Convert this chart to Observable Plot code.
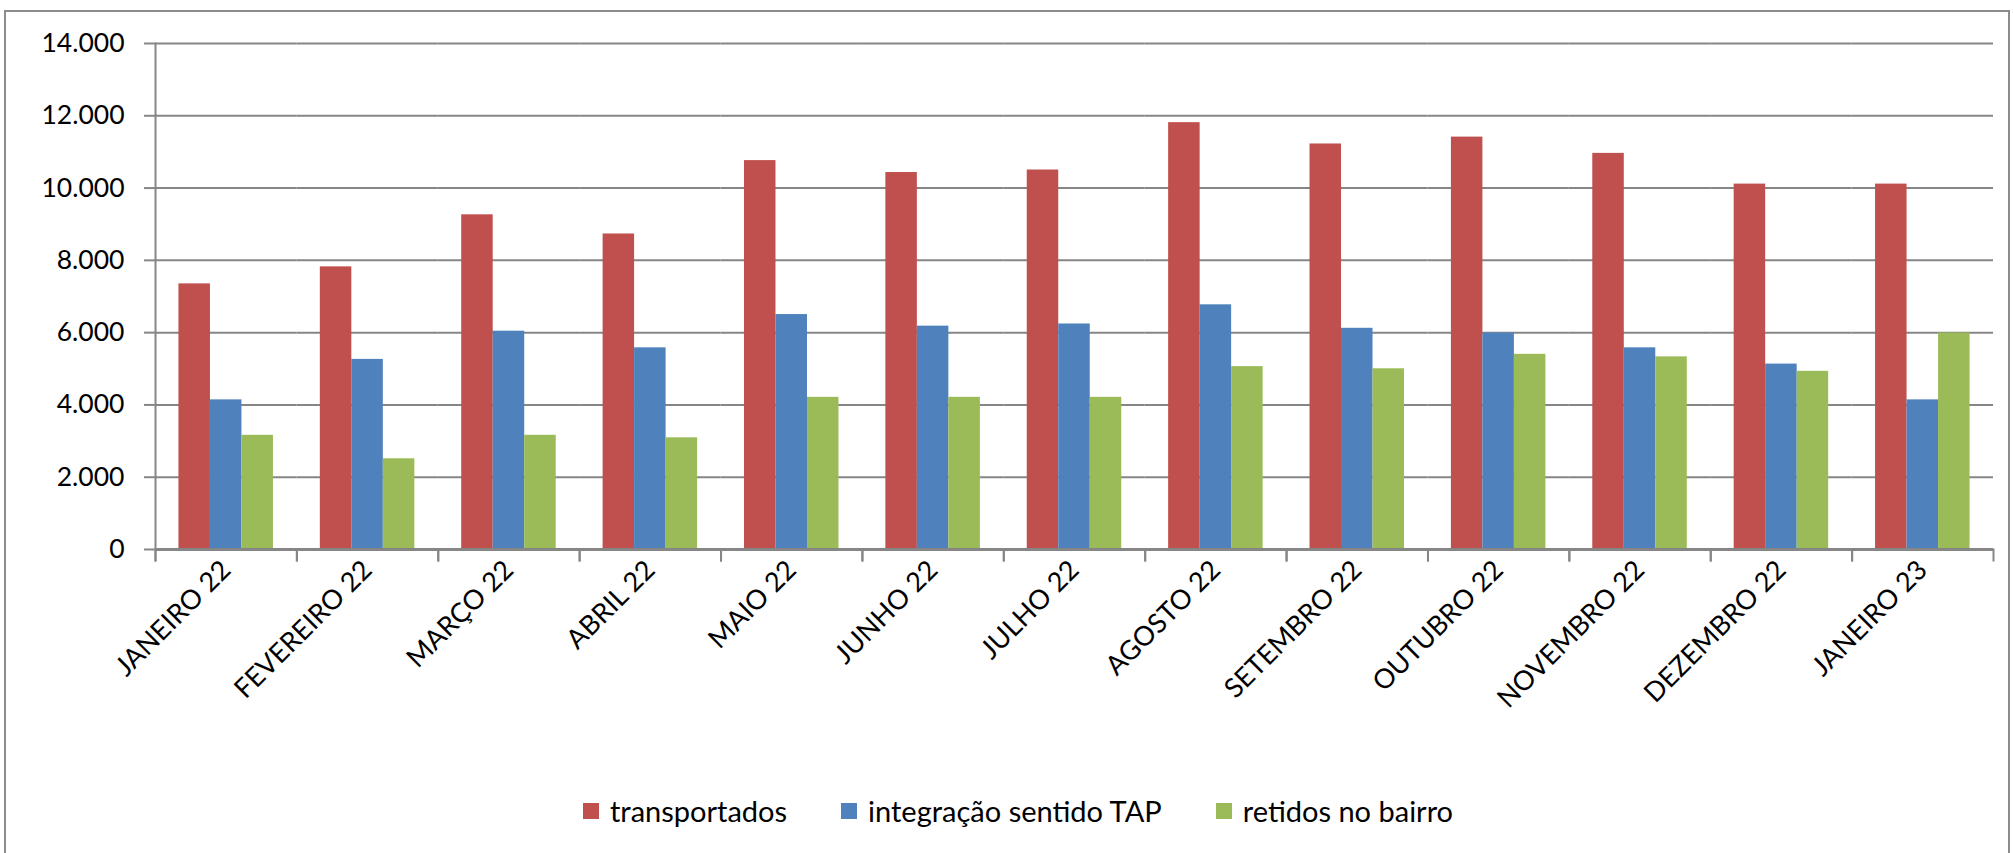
<!DOCTYPE html>
<html>
<head>
<meta charset="utf-8">
<script src="https://cdn.jsdelivr.net/npm/d3@7"></script>
<script src="https://cdn.jsdelivr.net/npm/@observablehq/plot@0.6"></script>
<style>
  html, body { margin: 0; padding: 0; background: #fff; }
  body { width: 2013px; height: 853px; overflow: hidden; position: relative; font-family: Lato, "Open Sans", sans-serif; }
  #border { position: absolute; left: 4px; top: 10px; width: 2006px; height: 900px; border: 2px solid #8c8c8c; box-sizing: border-box; }
  #chart { position: absolute; left: 0; top: 0; }
  #legend { position: absolute; left: 0; top: 793px; width: 2036px; display: flex; justify-content: center; align-items: center; font-size: 29px; color: #000; }
  .item { display: flex; align-items: center; margin: 0 27px; }
  .sw { width: 16px; height: 16px; margin-right: 11px; }
</style>
</head>
<body>
<div id="border"></div>
<div id="chart"></div>
<div id="legend"></div>
<script>
const months = ["JANEIRO 22","FEVEREIRO 22","MARÇO 22","ABRIL 22","MAIO 22","JUNHO 22","JULHO 22","AGOSTO 22","SETEMBRO 22","OUTUBRO 22","NOVEMBRO 22","DEZEMBRO 22","JANEIRO 23"];
const series = ["transportados","integração sentido TAP","retidos no bairro"];
const transportados = [7350, 7820, 9260, 8730, 10760, 10430, 10500, 11810, 11220, 11410, 10960, 10110, 10110];
const integracao   = [4140, 5260, 6040, 5580, 6500, 6180, 6240, 6770, 6120, 5990, 5580, 5130, 4140];
const retidos      = [3160, 2510, 3160, 3090, 4210, 4210, 4210, 5060, 5000, 5400, 5330, 4930, 5990];
const colors = ["#C0504D", "#4F81BD", "#9BBB59"];
const yTicks = [0, 2000, 4000, 6000, 8000, 10000, 12000, 14000];

const values = [transportados, integracao, retidos];
const data = [];
months.forEach((m, i) => series.forEach((s, j) => data.push({month: m, series: s, value: values[j][i]})));

const fmt = d3.formatLocale({decimal: ",", thousands: ".", grouping: [3], currency: ["R$", ""]}).format(",d");
const gridColor = "#868686";
const W = 2013, H = 760, mT = 43, mB = 211;

const plot = Plot.plot({
  width: W, height: H,
  marginTop: mT, marginLeft: 155, marginRight: 20, marginBottom: mB,
  style: {fontFamily: "Lato, 'Open Sans', sans-serif", fontSize: "26px", color: "#000", background: "transparent", overflow: "visible"},
  fx: {domain: months, paddingInner: 0, paddingOuter: 0, round: false, label: null},
  x: {domain: series, paddingInner: 0, paddingOuter: 0.744, round: false, axis: null},
  y: {domain: [0, 14000], axis: null},
  color: {domain: series, range: colors},
  marks: [
    Plot.gridY(yTicks, {stroke: gridColor, strokeOpacity: 1, strokeWidth: 2}),
    Plot.axisY(yTicks, {tickSize: 11, tickPadding: 20, stroke: gridColor, strokeWidth: 2, strokeOpacity: 1, tickFormat: fmt, label: null, fontSize: 26.5, fill: "#000"}),
    Plot.barY(data, {fx: "month", x: "series", y: "value", fill: "series"}),
    Plot.ruleY([0], {stroke: gridColor, strokeWidth: 3}),
    Plot.frame({anchor: "left", insetTop: H - mT - mB, insetBottom: -11, stroke: gridColor, strokeWidth: 2}),
    Plot.frame({anchor: "right", insetTop: H - mT - mB, insetBottom: -11, stroke: gridColor, strokeWidth: 2}),
    Plot.frame({facet: "super", anchor: "left", insetBottom: -11, stroke: gridColor, strokeWidth: 2}),
    Plot.axisFx({anchor: "bottom", tickSize: 0, tickRotate: -45, tickPadding: 16, label: null, fontSize: 27, fill: "#000"})
  ]
});
document.getElementById("chart").appendChild(plot);

const legend = document.getElementById("legend");
series.forEach((s, j) => {
  const item = document.createElement("div");
  item.className = "item";
  const sw = document.createElement("div");
  sw.className = "sw";
  sw.style.background = colors[j];
  const t = document.createElement("span");
  t.textContent = s;
  item.appendChild(sw);
  item.appendChild(t);
  legend.appendChild(item);
});
</script>
</body>
</html>
